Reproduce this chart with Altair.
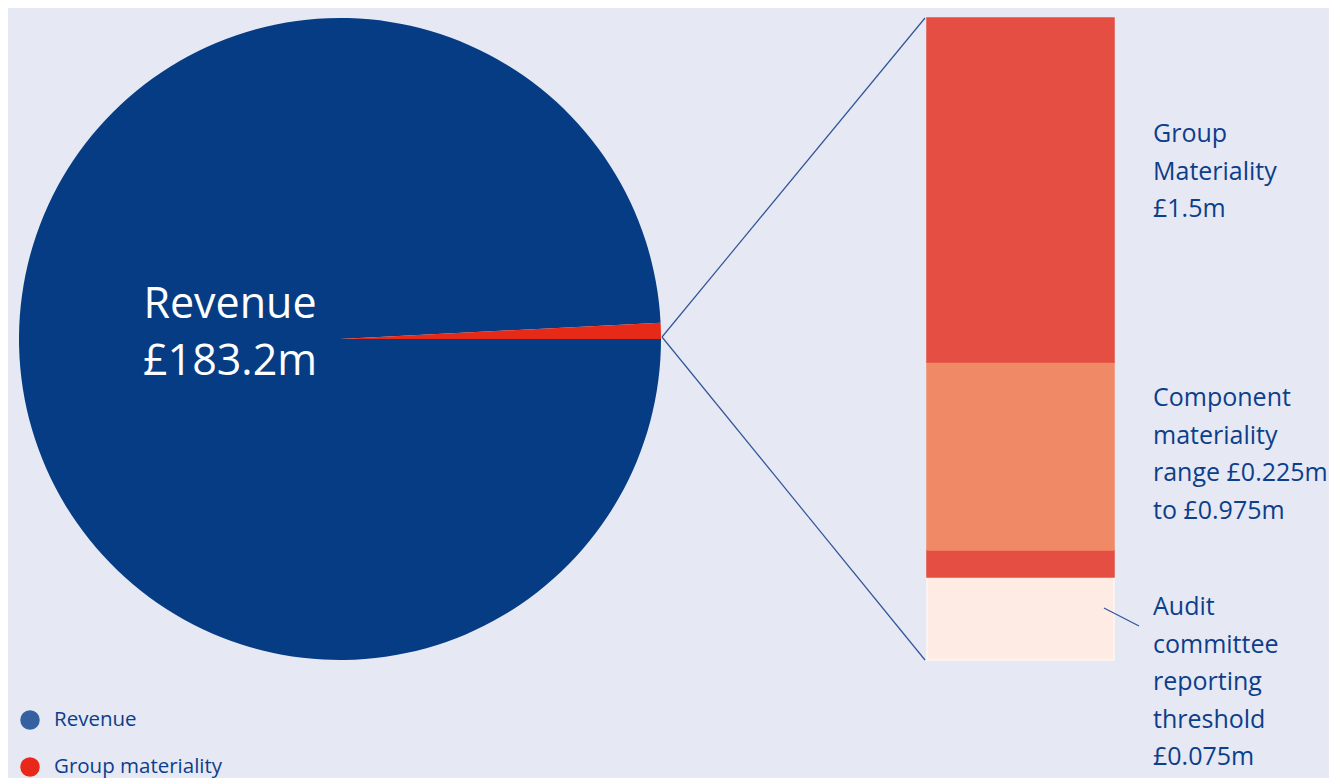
import altair as alt
import pandas as pd
import math

# ---- data ----
pie_labels = ["Revenue", "Group materiality"]
pie_values = [183.2, 1.5]
pie_colors = ["#053c84", "#e62a17"]

bar_segments = ["Audit committee reporting threshold", "Lower band", "Component materiality range", "Group materiality"]
bar_values = [0.194, 0.063, 0.439, 0.804]
bar_colors = ["#feece4", "#e54e42", "#f08a66", "#e54e42"]
bar_strokes = ["#fdf6f2", "#e54e42", "#f08a66", "#e54e42"]

legend_labels = ["Revenue", "Group materiality"]
legend_colors = ["#3561a0", "#e8291a"]

pie_text = "Revenue\n£183.2m"
label_group = "Group\nMateriality\n£1.5m"
label_component = "Component\nmateriality\nrange £0.225m\nto £0.975m"
label_audit = "Audit\ncommittee\nreporting\nthreshold\n£0.075m"

FONT = "Open Sans"
TEXT_BLUE = "#0d3e8a"
LINE_BLUE = "#2f5597"

pie_df = pd.DataFrame({"label": pie_labels, "value": pie_values,
                       "color": pie_colors, "order": list(range(len(pie_labels)))})
bar_df = pd.DataFrame({"segment": bar_segments, "value": bar_values,
                       "color": bar_colors, "stroke": bar_strokes})
bar_df["end"] = bar_df["value"].cumsum()
bar_df["start"] = bar_df["end"] - bar_df["value"]
leg_df = pd.DataFrame({"label": legend_labels, "color": legend_colors,
                       "row": list(range(len(legend_labels)))})

pie = alt.Chart(pie_df).mark_arc(outerRadius=321, stroke=None).encode(
    theta=alt.Theta("value:Q", stack=True,
                    scale=alt.Scale(range=[math.pi / 2, math.pi / 2 + 2 * math.pi])),
    color=alt.Color("color:N", scale=None),
    order=alt.Order("order:Q"),
    x=alt.value(332), y=alt.value(321),
)

pie_label = alt.Chart(pd.DataFrame({"t": [pie_text]})).mark_text(
    font=FONT, fontSize=43, color="white", align="center", baseline="middle",
    lineBreak="\n", lineHeight=57,
).encode(text="t:N", x=alt.value(222), y=alt.value(287))

ysc = alt.Scale(domain=[0, sum(bar_values)], nice=False, zero=True)
bar = alt.Chart(bar_df).mark_rect(strokeWidth=1.5).encode(
    x=alt.value(919), x2=alt.value(1106),
    y=alt.Y("start:Q", scale=ysc, axis=None),
    y2="end:Q",
    color=alt.Color("color:N", scale=None),
    stroke=alt.Stroke("stroke:N", scale=None),
)

def rule(x1, y1, x2, y2, w=1.2):
    return alt.Chart(pd.DataFrame({"a": [0]})).mark_rule(color=LINE_BLUE, strokeWidth=w).encode(
        x=alt.value(x1), y=alt.value(y1), x2=alt.value(x2), y2=alt.value(y2))

conn_top = rule(654, 319, 917, 0)
conn_bot = rule(654, 319, 917, 642)
leader = rule(1096, 590, 1131, 608)

def label(text, y):
    return alt.Chart(pd.DataFrame({"t": [text]})).mark_text(
        font=FONT, fontSize=25, color=TEXT_BLUE, align="left", baseline="middle",
        lineBreak="\n", lineHeight=37.5, fontWeight=500,
    ).encode(text="t:N", x=alt.value(1145), y=alt.value(y))

lab1 = label(label_group, 116)
lab2 = label(label_component, 380)
lab3 = label(label_audit, 589)

leg_y = alt.Y("row:Q", scale=alt.Scale(domain=[0, 1], range=[702, 749]), axis=None)
leg_dots = alt.Chart(leg_df).mark_point(filled=True, size=380, opacity=1, shape="circle").encode(
    x=alt.value(22), y=leg_y, color=alt.Color("color:N", scale=None))
leg_text = alt.Chart(leg_df).mark_text(
    font=FONT, fontSize=20.5, color=TEXT_BLUE, align="left", baseline="middle", fontWeight=500,
).encode(x=alt.value(46), y=leg_y, text="label:N")

chart = alt.layer(
    pie, pie_label, bar, conn_top, conn_bot, leader, lab1, lab2, lab3, leg_dots, leg_text
).resolve_scale(y="independent", color="independent", theta="independent").properties(
    width=1321, height=642,
    autosize=alt.AutoSizeParams(type="none"),
    padding={"left": 0, "top": 10, "right": 0, "bottom": 118},
    background="#e6e8f4",
).configure_view(stroke=None)

chart.save("out.html", embed_options={"renderer": "svg", "actions": False})
